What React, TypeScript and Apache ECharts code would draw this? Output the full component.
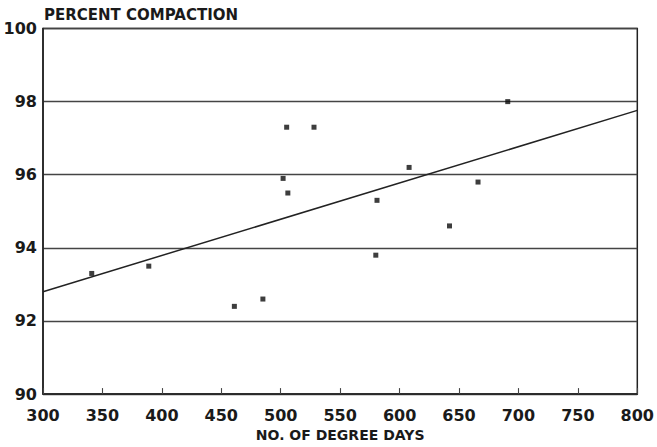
import React, { useEffect, useRef } from "react";
import * as echarts from "echarts";

const degreeDays = [341, 389, 461, 485, 502, 506, 505, 528, 581, 580, 608, 666, 642, 691];
const compaction = [93.3, 93.5, 92.4, 92.6, 95.9, 95.5, 97.3, 97.3, 95.3, 93.8, 96.2, 95.8, 94.6, 98.0];
const fitX = [300, 800];
const fitY = [92.8, 97.76];
const xTicks = { min: 300, max: 800, interval: 50 };
const yTicks = { min: 90, max: 100, interval: 2 };

const FONT = "DejaVu Sans";

export default function App() {
  const ref = useRef<HTMLDivElement>(null);
  useEffect(() => {
    if (!ref.current) return;
    const chart = echarts.init(ref.current, undefined, { renderer: "svg" });
    chart.setOption({
      animation: false,
      backgroundColor: "#ffffff",
      title: {
        text: "PERCENT COMPACTION",
        left: 44,
        top: 7,
        textStyle: { fontFamily: FONT, fontWeight: "bold", fontSize: 15, color: "#1a1a1a" },
        padding: 0,
      },
      grid: {
        left: 43,
        right: 17,
        top: 28.5,
        bottom: 50,
        show: true,
        borderColor: "#222",
        borderWidth: 1.5,
        containLabel: false,
      },
      xAxis: {
        type: "value",
        min: xTicks.min,
        max: xTicks.max,
        interval: xTicks.interval,
        name: "NO. OF DEGREE DAYS",
        nameLocation: "middle",
        nameGap: 31,
        nameTextStyle: { fontFamily: FONT, fontWeight: "bold", fontSize: 14, color: "#1a1a1a" },
        axisLine: { show: true, lineStyle: { color: "#222", width: 1.5 } },
        axisTick: { show: true, inside: true, length: 6, lineStyle: { color: "#444", width: 1.1 } },
        splitLine: { show: false },
        axisLabel: { fontFamily: FONT, fontWeight: "bold", fontSize: 16, color: "#1a1a1a", margin: 13 },
      },
      yAxis: {
        type: "value",
        min: yTicks.min,
        max: yTicks.max,
        interval: yTicks.interval,
        axisLine: { show: true, lineStyle: { color: "#222", width: 1.5 } },
        axisTick: { show: false },
        splitLine: { show: true, lineStyle: { color: "#444", width: 1.3 } },
        axisLabel: { fontFamily: FONT, fontWeight: "bold", fontSize: 16, color: "#1a1a1a", margin: 6 },
      },
      series: [
        {
          type: "scatter",
          data: degreeDays.map((x, i) => [x, compaction[i]]),
          symbol: "rect",
          symbolSize: 5,
          itemStyle: { color: "#0d0d0d" },
        },
        {
          type: "line",
          data: fitX.map((x, i) => [x, fitY[i]]),
          showSymbol: false,
          symbol: "none",
          lineStyle: { color: "#222", width: 1.5 },
        },
      ],
    });
    return () => chart.dispose();
  }, []);
  return <div ref={ref} style={{ width: 657, height: 447, position: "absolute", left: 0, top: 0 }} />;
}
